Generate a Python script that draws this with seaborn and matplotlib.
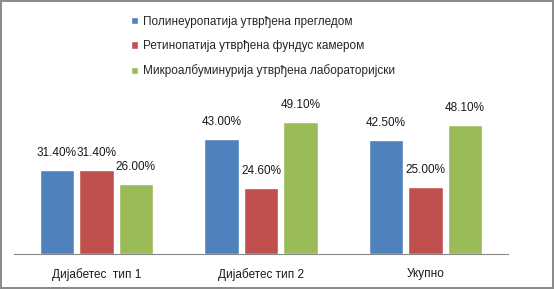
import matplotlib
matplotlib.use("Agg")
import matplotlib.pyplot as plt
import seaborn as sns
import pandas as pd

# data
groups = ['Дијабетес  тип 1', 'Дијабетес тип 2', 'Укупно']
series = ['Полинеуропатија утврђена прегледом',
          'Ретинопатија утврђена фундус камером',
          'Микроалбуминурија утврђена лабораторијски']
poly = [31.4, 43.0, 42.5]
retino = [31.4, 24.6, 25.0]
micro = [26.0, 49.1, 48.1]
colors = ['#4F81BD', '#C0504D', '#9BBB59']

rows = []
for name, vals in zip(series, [poly, retino, micro]):
    for g, v in zip(groups, vals):
        rows.append({'group': g, 'series': name, 'value': v})
df = pd.DataFrame(rows)

sns.set_style('white')
plt.rcParams['font.family'] = ['Liberation Sans', 'DejaVu Sans']

fig = plt.figure(figsize=(5.54, 2.89), dpi=100)
fig.patch.set_edgecolor('#8c8c8c')
fig.patch.set_linewidth(1.5)
ax = fig.add_axes([14/554, 35/289, (508-14)/554, (254-93)/289])

sns.barplot(data=df, x='group', y='value', hue='series', hue_order=series,
            order=groups, palette=colors, width=0.72, gap=0.13,
            saturation=1, ax=ax, legend=True)

for cont in ax.containers:
    ax.bar_label(cont, fmt='%.2f%%', padding=8, fontsize=8.5, color='#1a1a1a')

ax.set_ylim(0, 60)
ax.set_xlim(-0.5, 2.5)
ax.set_xlabel('')
ax.set_ylabel('')
ax.set_yticks([])
ax.tick_params(axis='x', length=0, labelsize=8.5, pad=10, colors='#1a1a1a')
for s in ['top', 'right', 'left']:
    ax.spines[s].set_visible(False)
ax.spines['bottom'].set_color('#888888')
ax.patch.set_alpha(0)

handles, labels = ax.get_legend_handles_labels()
ax.legend_.remove()
fig.legend(handles, labels, loc='upper left', bbox_to_anchor=(126/554, 1 - 11/289),
           frameon=False, fontsize=8.5, handlelength=0.6, handleheight=0.6,
           handletextpad=0.4, labelspacing=1.05, borderaxespad=0)

fig.savefig('out.png', dpi=100)
